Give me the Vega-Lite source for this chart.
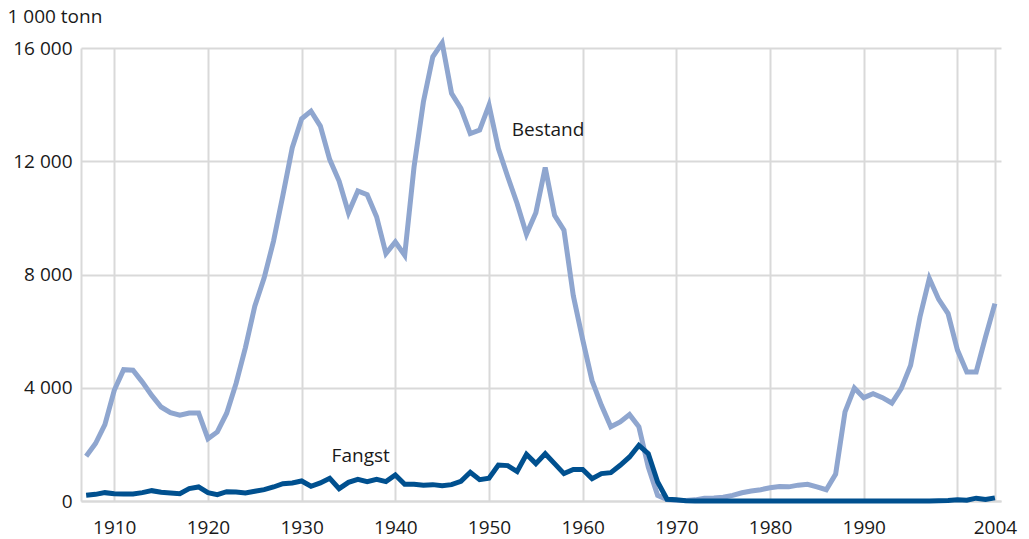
{
  "$schema": "https://vega.github.io/schema/vega-lite/v6.json",
  "width": 920,
  "height": 453,
  "autosize": {"type": "none"},
  "padding": {"left": 81, "top": 48, "right": 28, "bottom": 38},
  "background": "white",
  "config": {
    "view": {"stroke": null},
    "font": "Open Sans",
    "axis": {
      "labelFont": "Open Sans",
      "labelFontSize": 19,
      "labelColor": "#1a1a1a",
      "gridColor": "#d9d9d9",
      "gridWidth": 2,
      "domainColor": "#d9d9d9",
      "domainWidth": 2,
      "ticks": false
    }
  },
  "datasets": {
    "series": [
      {"year": 1907, "Bestand": 1580, "Fangst": 200},
      {"year": 1908, "Bestand": 2030, "Fangst": 235},
      {"year": 1909, "Bestand": 2700, "Fangst": 295},
      {"year": 1910, "Bestand": 3910, "Fangst": 260},
      {"year": 1911, "Bestand": 4640, "Fangst": 250},
      {"year": 1912, "Bestand": 4620, "Fangst": 250},
      {"year": 1913, "Bestand": 4200, "Fangst": 295},
      {"year": 1914, "Bestand": 3730, "Fangst": 365},
      {"year": 1915, "Bestand": 3320, "Fangst": 307},
      {"year": 1916, "Bestand": 3120, "Fangst": 283},
      {"year": 1917, "Bestand": 3030, "Fangst": 260},
      {"year": 1918, "Bestand": 3110, "Fangst": 437},
      {"year": 1919, "Bestand": 3110, "Fangst": 495},
      {"year": 1920, "Bestand": 2200, "Fangst": 295},
      {"year": 1921, "Bestand": 2440, "Fangst": 225},
      {"year": 1922, "Bestand": 3100, "Fangst": 330},
      {"year": 1923, "Bestand": 4150, "Fangst": 318},
      {"year": 1924, "Bestand": 5420, "Fangst": 283},
      {"year": 1925, "Bestand": 6880, "Fangst": 342},
      {"year": 1926, "Bestand": 7880, "Fangst": 400},
      {"year": 1927, "Bestand": 9180, "Fangst": 495},
      {"year": 1928, "Bestand": 10800, "Fangst": 613},
      {"year": 1929, "Bestand": 12480, "Fangst": 637},
      {"year": 1930, "Bestand": 13500, "Fangst": 707},
      {"year": 1931, "Bestand": 13770, "Fangst": 520},
      {"year": 1932, "Bestand": 13240, "Fangst": 637},
      {"year": 1933, "Bestand": 12060, "Fangst": 802},
      {"year": 1934, "Bestand": 11300, "Fangst": 437},
      {"year": 1935, "Bestand": 10180, "Fangst": 660},
      {"year": 1936, "Bestand": 10950, "Fangst": 767},
      {"year": 1937, "Bestand": 10820, "Fangst": 685},
      {"year": 1938, "Bestand": 10040, "Fangst": 767},
      {"year": 1939, "Bestand": 8740, "Fangst": 685},
      {"year": 1940, "Bestand": 9150, "Fangst": 920},
      {"year": 1941, "Bestand": 8680, "Fangst": 590},
      {"year": 1942, "Bestand": 11800, "Fangst": 590},
      {"year": 1943, "Bestand": 14100, "Fangst": 555},
      {"year": 1944, "Bestand": 15690, "Fangst": 578},
      {"year": 1945, "Bestand": 16180, "Fangst": 543},
      {"year": 1946, "Bestand": 14400, "Fangst": 578},
      {"year": 1947, "Bestand": 13870, "Fangst": 696},
      {"year": 1948, "Bestand": 12980, "Fangst": 1014},
      {"year": 1949, "Bestand": 13100, "Fangst": 755},
      {"year": 1950, "Bestand": 13980, "Fangst": 802},
      {"year": 1951, "Bestand": 12450, "Fangst": 1270},
      {"year": 1952, "Bestand": 11450, "Fangst": 1250},
      {"year": 1953, "Bestand": 10510, "Fangst": 1040},
      {"year": 1954, "Bestand": 9420, "Fangst": 1650},
      {"year": 1955, "Bestand": 10180, "Fangst": 1320},
      {"year": 1956, "Bestand": 11780, "Fangst": 1670},
      {"year": 1957, "Bestand": 10090, "Fangst": 1320},
      {"year": 1958, "Bestand": 9570, "Fangst": 967},
      {"year": 1959, "Bestand": 7250, "Fangst": 1110},
      {"year": 1960, "Bestand": 5700, "Fangst": 1110},
      {"year": 1961, "Bestand": 4250, "Fangst": 790},
      {"year": 1962, "Bestand": 3380, "Fangst": 967},
      {"year": 1963, "Bestand": 2620, "Fangst": 1002},
      {"year": 1964, "Bestand": 2790, "Fangst": 1260},
      {"year": 1965, "Bestand": 3050, "Fangst": 1555},
      {"year": 1966, "Bestand": 2620, "Fangst": 1968},
      {"year": 1967, "Bestand": 1200, "Fangst": 1675},
      {"year": 1968, "Bestand": 200, "Fangst": 673},
      {"year": 1969, "Bestand": 50, "Fangst": 60},
      {"year": 1970, "Bestand": 30, "Fangst": 40},
      {"year": 1971, "Bestand": 20, "Fangst": 10},
      {"year": 1972, "Bestand": 40, "Fangst": 0},
      {"year": 1973, "Bestand": 100, "Fangst": 0},
      {"year": 1974, "Bestand": 110, "Fangst": 0},
      {"year": 1975, "Bestand": 130, "Fangst": 0},
      {"year": 1976, "Bestand": 200, "Fangst": 0},
      {"year": 1977, "Bestand": 290, "Fangst": 0},
      {"year": 1978, "Bestand": 350, "Fangst": 0},
      {"year": 1979, "Bestand": 400, "Fangst": 0},
      {"year": 1980, "Bestand": 470, "Fangst": 0},
      {"year": 1981, "Bestand": 510, "Fangst": 0},
      {"year": 1982, "Bestand": 500, "Fangst": 0},
      {"year": 1983, "Bestand": 560, "Fangst": 0},
      {"year": 1984, "Bestand": 590, "Fangst": 0},
      {"year": 1985, "Bestand": 500, "Fangst": 0},
      {"year": 1986, "Bestand": 400, "Fangst": 0},
      {"year": 1987, "Bestand": 950, "Fangst": 0},
      {"year": 1988, "Bestand": 3150, "Fangst": 0},
      {"year": 1989, "Bestand": 3990, "Fangst": 0},
      {"year": 1990, "Bestand": 3650, "Fangst": 0},
      {"year": 1991, "Bestand": 3790, "Fangst": 0},
      {"year": 1992, "Bestand": 3650, "Fangst": 0},
      {"year": 1993, "Bestand": 3460, "Fangst": 0},
      {"year": 1994, "Bestand": 3970, "Fangst": 0},
      {"year": 1995, "Bestand": 4790, "Fangst": 0},
      {"year": 1996, "Bestand": 6500, "Fangst": 0},
      {"year": 1997, "Bestand": 7860, "Fangst": 0},
      {"year": 1998, "Bestand": 7120, "Fangst": 10},
      {"year": 1999, "Bestand": 6620, "Fangst": 20},
      {"year": 2000, "Bestand": 5330, "Fangst": 40},
      {"year": 2001, "Bestand": 4560, "Fangst": 30},
      {"year": 2002, "Bestand": 4560, "Fangst": 100},
      {"year": 2003, "Bestand": 5800, "Fangst": 50},
      {"year": 2004, "Bestand": 6970, "Fangst": 110}
    ],
    "labels": [
      {"year": 1952.43, "value": 12890, "label": "Bestand"},
      {"year": 1933.2, "value": 1370, "label": "Fangst"}
    ]
  },
  "layer": [
    {
      "data": {"name": "series"},
      "mark": {"type": "line", "color": "#8fa6cf", "strokeWidth": 5, "strokeJoin": "miter", "strokeCap": "butt", "clip": false},
      "encoding": {
        "x": {
          "field": "year", "type": "quantitative",
          "scale": {"domain": [1906.45, 2004.65], "nice": false, "zero": false},
          "axis": {
            "values": [1910, 1920, 1930, 1940, 1950, 1960, 1970, 1980, 1990, 2000, 2004],
            "format": "d",
            "labelExpr": "datum.value == 2000 ? '' : datum.label",
            "title": null, "labelPadding": 17, "labelFlush": false, "labelOverlap": false,
            "grid": true, "domain": true
          }
        },
        "y": {
          "field": "Bestand", "type": "quantitative",
          "scale": {"domain": [0, 16000], "nice": false},
          "axis": {
            "values": [0, 4000, 8000, 12000, 16000],
            "labelExpr": "replace(format(datum.value, ','), ',', ' ')",
            "labelPadding": 9,
            "grid": true,
            "domain": true,
            "title": "1 000 tonn",
            "titleAngle": 0,
            "titleAlign": "left",
            "titleBaseline": "alphabetic",
            "titleX": -74,
            "titleY": -26,
            "titleFont": "Open Sans",
            "titleFontSize": 19,
            "titleFontWeight": "normal",
            "titleColor": "#1a1a1a"
          }
        }
      }
    },
    {
      "data": {"name": "series"},
      "mark": {"type": "line", "color": "#00508f", "strokeWidth": 5, "strokeJoin": "miter", "strokeCap": "butt"},
      "encoding": {
        "x": {"field": "year", "type": "quantitative"},
        "y": {"field": "Fangst", "type": "quantitative"}
      }
    },
    {
      "data": {"name": "labels"},
      "mark": {"type": "text", "align": "left", "baseline": "alphabetic", "font": "Open Sans", "fontSize": 19, "color": "#1a1a1a"},
      "encoding": {
        "x": {"field": "year", "type": "quantitative"},
        "y": {"field": "value", "type": "quantitative"},
        "text": {"field": "label"}
      }
    }
  ]
}
